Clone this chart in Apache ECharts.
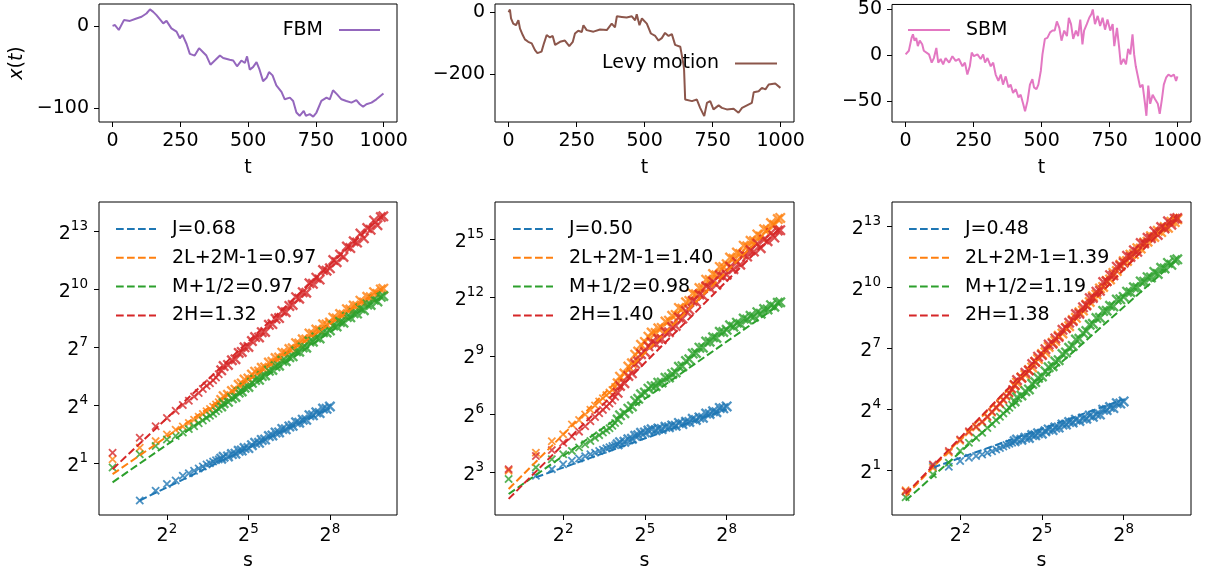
<!DOCTYPE html>
<html>
<head>
<meta charset="utf-8">
<script src="https://cdn.jsdelivr.net/npm/echarts@6/dist/echarts.min.js"></script>
<style>
html, body { margin: 0; padding: 0; background: #fff; }
#main { width: 1215px; height: 576px; }
</style>
</head>
<body>
<div id="main"></div>
<script>
// --- trajectories (top row) ---
var fbmT = [0, 9, 15, 23, 29, 42, 64, 88, 107, 125, 138, 150, 162, 187, 199, 217, 236, 248, 258, 273, 285, 303, 319, 334, 346, 361, 377, 396, 408, 432, 445, 459, 475, 488, 496, 506, 518, 531, 541, 555, 568, 577, 590, 604, 623, 635, 654, 666, 678, 690, 705, 713, 727, 740, 752, 770, 789, 801, 813, 828, 844, 862, 881, 899, 912, 924, 936, 955, 973, 999];
var fbmX = [0, 1, 2, -5, -7, 7, 6, 9, 11, 15, 20, 17, 13, 3, 6, -3, -7, -15, -11, -22, -34, -36, -27, -32, -36, -47, -42, -36, -39, -41, -42, -49, -42, -45, -37, -53, -50, -44, -52, -67, -63, -56, -60, -72, -80, -89, -87, -91, -105, -109, -103, -109, -107, -110, -105, -91, -87, -89, -78, -83, -89, -91, -93, -90, -95, -98, -95, -93, -89, -82];

var levyT = [0, 5, 9, 17, 27, 36, 42, 52, 60, 72, 85, 97, 106, 121, 130, 140, 152, 162, 171, 189, 207, 223, 236, 244, 256, 269, 275, 287, 312, 336, 361, 379, 391, 398, 416, 434, 453, 465, 471, 481, 490, 508, 523, 539, 551, 563, 575, 588, 600, 612, 631, 643, 645, 649, 655, 674, 692, 704, 719, 729, 741, 753, 772, 784, 802, 827, 845, 858, 876, 894, 901, 919, 931, 944, 956, 980, 999];
var levyX = [0, 9, -20, -37, -42, -26, -53, -74, -88, -96, -101, -123, -133, -128, -101, -74, -82, -77, -106, -96, -92, -110, -96, -69, -60, -64, -42, -58, -63, -56, -58, -37, -49, -13, -15, -17, -13, -26, -6, -42, -20, -37, -69, -77, -92, -84, -67, -77, -71, -106, -112, -171, -187, -284, -284, -289, -284, -311, -338, -295, -289, -316, -303, -311, -316, -314, -327, -311, -303, -295, -260, -257, -246, -251, -235, -232, -246];

var sbmT = [0, 12, 22, 27, 33, 39, 45, 52, 61, 67, 74, 86, 96, 104, 113, 120, 129, 138, 147, 160, 172, 184, 196, 209, 218, 227, 236, 243, 251, 264, 276, 285, 292, 301, 313, 322, 331, 341, 350, 358, 368, 378, 386, 395, 405, 415, 423, 432, 439, 448, 457, 466, 472, 481, 488, 497, 503, 512, 521, 531, 540, 548, 556, 565, 573, 583, 593, 600, 608, 616, 626, 634, 642, 650, 656, 666, 675, 683, 688, 696, 706, 715, 724, 733, 742, 752, 761, 767, 777, 785, 791, 801, 810, 818, 826, 834, 840, 846, 853, 862, 871, 880, 885, 892, 899, 908, 917, 927, 934, 942, 949, 958, 966, 976, 986, 994, 999];
var sbmX = [1, 5, 19, 23, 16, 19, 10, 16, 12, 5, 7, 1, -8, -3, 8, -8, -4, -10, -3, -8, -1, -6, -4, -12, -8, -21, -12, 3, -1, 1, -4, 1, -8, -3, -12, -8, -21, -28, -21, -32, -23, -35, -32, -41, -37, -46, -43, -53, -61, -50, -32, -26, -35, -37, -32, -17, 1, 18, 19, 25, 27, 27, 37, 30, 16, 27, 21, 41, 34, 18, 27, 21, 39, 12, 27, 34, 41, 45, 50, 34, 43, 32, 41, 28, 39, 27, 34, 10, 30, 8, -10, -4, -10, 7, 1, 23, 1, -12, -10, -35, -32, -53, -66, -33, -53, -43, -48, -53, -64, -48, -32, -24, -21, -23, -21, -28, -23];

// --- scaling plots (bottom row); y values are read as log2 exponents ---
var sVals = [1, 2, 3, 4, 5, 6, 7, 8, 9, 10, 11, 12, 13, 14, 15,
    16, 17, 19, 21, 23, 25, 27, 29, 32, 35, 38, 42, 45, 49, 54, 59, 64, 70, 76, 83, 91, 99, 108, 117,
    128, 140, 152, 166, 181, 197, 215, 235, 256, 279, 304, 332, 362, 395, 431, 470, 512, 558, 609, 664, 724, 790, 861, 939, 1000];
var sValsJ = sVals.slice(1, 48); // s = 2 .. 256

var p1Names = ['J=0.68', '2L+2M-1=0.97', 'M+1/2=0.97', '2H=1.32'];
var p1J = [-0.91, -0.40, -0.06, 0.12, 0.37, 0.50, 0.63, 0.75, 0.85, 0.95, 1.02, 1.10, 1.17, 1.21,
    1.25, 1.35, 1.37, 1.49, 1.51, 1.66, 1.67, 1.80, 1.80, 1.95, 2.07, 2.07, 2.22, 2.24, 2.42, 2.45,
    2.60, 2.61, 2.79, 2.77, 2.92, 2.95, 3.13, 3.11, 3.27, 3.26, 3.50, 3.49, 3.65, 3.61, 3.84, 3.83, 3.95];
var p1L = [1.22, 1.82, 2.16, 2.50, 2.75, 2.92, 3.10, 3.27, 3.42, 3.56, 3.70, 3.82, 3.94, 4.05, 4.17,
    4.29, 4.48, 4.55, 4.75, 4.82, 5.07, 5.14, 5.34, 5.39, 5.60, 5.75, 5.76, 5.95, 5.97, 6.22, 6.26,
    6.45, 6.48, 6.73, 6.71, 6.92, 6.96, 7.22, 7.20, 7.42, 7.41, 7.72, 7.71, 7.93, 7.89, 8.20, 8.19,
    8.29, 8.54, 8.50, 8.73, 8.69, 8.98, 8.96, 9.17, 9.15, 9.42, 9.32, 9.62, 9.59, 9.86, 9.77, 10.00, 10.04];
var p1M = [0.80, 1.48, 1.91, 2.24, 2.42, 2.60, 2.78, 2.93, 3.08, 3.22, 3.35, 3.47, 3.58, 3.70, 3.82,
    3.95, 4.12, 4.19, 4.37, 4.44, 4.67, 4.73, 4.92, 4.96, 5.17, 5.32, 5.33, 5.52, 5.55, 5.80, 5.84,
    6.03, 6.06, 6.31, 6.29, 6.50, 6.54, 6.80, 6.78, 7.00, 6.99, 7.31, 7.30, 7.52, 7.47, 7.79, 7.78,
    7.88, 8.13, 8.09, 8.32, 8.28, 8.58, 8.56, 8.77, 8.75, 9.02, 8.93, 9.22, 9.20, 9.47, 9.38, 9.62, 9.66];
var p1H = [1.56, 2.33, 2.93, 3.35, 3.73, 4.03, 4.25, 4.46, 4.65, 4.85, 5.02, 5.15, 5.30, 5.45, 5.62,
    5.82, 6.04, 6.10, 6.34, 6.39, 6.72, 6.77, 7.01, 7.03, 7.33, 7.54, 7.52, 7.79, 7.80, 8.17, 8.21,
    8.48, 8.52, 8.89, 8.82, 9.15, 9.20, 9.60, 9.52, 9.86, 9.83, 10.32, 10.29, 10.61, 10.51, 11.00, 10.97,
    11.09, 11.52, 11.41, 11.80, 11.68, 12.22, 12.14, 12.49, 12.42, 12.89, 12.64, 13.17, 13.08, 13.57, 13.32, 13.74, 13.78];
var p1FitJ = [-0.91, 3.85], p1FitL = [0.45, 10.12], p1FitM = [0.03, 9.70], p1FitH = [0.71, 13.87];

var p2Names = ['J=0.50', '2L+2M-1=1.40', 'M+1/2=0.98', '2H=1.40'];
var p2J = [2.83, 3.17, 3.42, 3.60, 3.72, 3.84, 3.94, 4.02, 4.10, 4.17, 4.24, 4.30, 4.36, 4.40,
    4.45, 4.56, 4.58, 4.71, 4.73, 4.89, 4.91, 5.04, 5.06, 5.16, 5.22, 5.17, 5.26, 5.23, 5.35, 5.33,
    5.42, 5.40, 5.55, 5.49, 5.61, 5.60, 5.76, 5.70, 5.83, 5.81, 6.03, 6.01, 6.15, 6.10, 6.32, 6.30, 6.40];
var p2L = [3.09, 4.02, 4.61, 4.96, 5.47, 5.70, 5.98, 6.23, 6.45, 6.65, 6.82, 6.98, 7.12, 7.25, 7.40,
    7.59, 7.93, 8.09, 8.45, 8.62, 9.06, 9.22, 9.57, 9.72, 9.99, 10.20, 10.18, 10.42, 10.44, 10.77, 10.81,
    11.06, 11.11, 11.47, 11.43, 11.76, 11.83, 12.21, 12.17, 12.49, 12.49, 12.92, 12.91, 13.21, 13.15, 13.58, 13.58,
    13.72, 14.06, 14.00, 14.32, 14.25, 14.67, 14.64, 14.92, 14.91, 15.25, 15.14, 15.52, 15.50, 15.84, 15.73, 16.04, 16.10];
var p2M = [2.66, 3.26, 3.68, 3.94, 4.11, 4.28, 4.45, 4.62, 4.78, 4.92, 5.05, 5.17, 5.28, 5.40, 5.55,
    5.72, 5.94, 6.05, 6.28, 6.40, 6.68, 6.79, 7.02, 7.11, 7.31, 7.44, 7.44, 7.62, 7.63, 7.87, 7.89,
    8.07, 8.15, 8.44, 8.47, 8.73, 8.82, 9.12, 9.15, 9.42, 9.42, 9.74, 9.73, 9.96, 9.92, 10.24, 10.23,
    10.34, 10.57, 10.50, 10.71, 10.64, 10.92, 10.87, 11.06, 11.02, 11.25, 11.17, 11.41, 11.39, 11.61, 11.53, 11.73, 11.76];
var p2H = [3.17, 3.85, 4.15, 4.53, 4.85, 5.10, 5.38, 5.64, 5.85, 6.05, 6.22, 6.40, 6.55, 6.70, 6.90,
    7.10, 7.45, 7.59, 7.97, 8.10, 8.59, 8.71, 9.09, 9.20, 9.49, 9.70, 9.62, 9.88, 9.86, 10.23, 10.22,
    10.48, 10.54, 10.98, 10.92, 11.30, 11.37, 11.83, 11.78, 12.16, 12.09, 12.58, 12.50, 12.82, 12.66, 13.15, 13.07,
    13.18, 13.59, 13.46, 13.83, 13.69, 14.21, 14.11, 14.44, 14.37, 14.77, 14.54, 14.99, 14.90, 15.32, 15.09, 15.45, 15.47];
var p2FitJ = [2.75, 6.25], p2FitL = [2.15, 16.10], p2FitM = [1.89, 11.66], p2FitH = [1.64, 15.60];

var p3Names = ['J=0.48', '2L+2M-1=1.39', 'M+1/2=1.19', '2H=1.38'];
var p3J = [1.21, 1.17, 1.46, 1.62, 1.70, 1.78, 1.86, 1.94, 2.02, 2.10, 2.17, 2.24, 2.30, 2.36,
    2.43, 2.51, 2.50, 2.60, 2.59, 2.73, 2.72, 2.82, 2.80, 2.92, 3.01, 2.98, 3.10, 3.10, 3.25, 3.25,
    3.37, 3.35, 3.49, 3.43, 3.55, 3.54, 3.69, 3.63, 3.76, 3.74, 3.98, 3.96, 4.11, 4.06, 4.30, 4.28, 4.39];
var p3L = [0.02, 1.13, 1.88, 2.45, 2.86, 3.10, 3.35, 3.60, 3.83, 4.05, 4.25, 4.43, 4.60, 4.76, 4.95,
    5.17, 5.31, 5.57, 5.69, 5.93, 6.06, 6.33, 6.48, 6.72, 6.81, 7.07, 7.28, 7.37, 7.62, 7.73, 8.00,
    8.09, 8.39, 8.50, 8.77, 8.86, 9.15, 9.28, 9.56, 9.65, 9.95, 10.02, 10.31, 10.39, 10.71, 10.80, 11.11,
    11.29, 11.30, 11.61, 11.64, 11.93, 11.91, 12.21, 12.25, 12.52, 12.48, 12.78, 12.72, 12.97, 12.93, 13.23, 13.21, 13.35];
var p3M = [-0.33, 0.80, 1.37, 1.95, 2.35, 2.60, 2.85, 3.08, 3.28, 3.46, 3.63, 3.80, 3.95, 4.08, 4.22,
    4.39, 4.59, 4.68, 4.89, 4.98, 5.25, 5.34, 5.55, 5.62, 5.87, 6.07, 6.12, 6.35, 6.42, 6.72, 6.80,
    7.03, 7.12, 7.43, 7.47, 7.75, 7.85, 8.16, 8.21, 8.49, 8.50, 8.84, 8.85, 9.09, 9.06, 9.40, 9.41,
    9.53, 9.79, 9.76, 10.00, 9.98, 10.29, 10.28, 10.50, 10.49, 10.76, 10.66, 10.96, 10.93, 11.20, 11.11, 11.34, 11.38];
var p3H = [-0.04, 1.29, 1.95, 2.51, 2.92, 3.15, 3.40, 3.65, 3.88, 4.10, 4.30, 4.48, 4.65, 4.80, 5.00,
    5.20, 5.44, 5.55, 5.80, 5.91, 6.23, 6.34, 6.59, 6.67, 6.96, 7.19, 7.23, 7.49, 7.56, 7.91, 8.00,
    8.26, 8.34, 8.69, 8.70, 9.02, 9.11, 9.47, 9.48, 9.79, 9.83, 10.26, 10.30, 10.60, 10.59, 11.02, 11.06,
    11.21, 11.55, 11.50, 11.82, 11.75, 12.18, 12.16, 12.44, 12.42, 12.76, 12.58, 12.97, 12.90, 13.25, 13.08, 13.38, 13.41];
var p3FitJ = [1.13, 4.49], p3FitL = [-0.25, 13.61], p3FitM = [-0.49, 11.37], p3FitH = [-0.17, 13.59];

var fitS = [1, 1000], fitSJ = [2, 256];
var tTicks = [0, 250, 500, 750, 1000];
var sTicks = [4, 32, 256];

// --- style ---
var FONT = 'DejaVu Sans';
var BLUE = '#1f77b4', ORANGE = '#ff7f0e', GREEN = '#2ca02c', RED = '#d62728';
var XMARK = 'path://M0,1.5 L1.5,0 L10,8.5 L8.5,10 Z M8.5,0 L10,1.5 L1.5,10 L0,8.5 Z';
var DASH_ICON = 'path://M0,0h7.7v2h-7.7z M11,0h7.7v2h-7.7z M22,0h7.7v2h-7.7z M33,0h7v2h-7z';
var txt = { fontFamily: FONT, fontSize: 19, color: '#000' };

var pow2 = function (e) { return Math.pow(2, e); };
var minus = function (v) { return String(v).replace('-', '\u2212'); };
var supLabel = function (v) { return '{b|2}{p|' + Math.round(Math.log2(v)) + '}'; };
var supRich = {
    b: { fontFamily: FONT, fontSize: 19, color: '#000', lineHeight: 24, verticalAlign: 'bottom' }
    , p: { fontFamily: FONT, fontSize: 13.5, color: '#000', lineHeight: 15, verticalAlign: 'top' }
};
// markers crowd together past s=16, where the cloud reads as a solid band
var markSize = function (v) { return v[0] >= 16 ? 11 : 8.5; };

var lefts = [99, 495, 892], widths = [298, 299, 299];
var grids = [], xAxes = [], yAxes = [], series = [], legends = [];

function ticks(values) {
    return { show: true, length: 5, customValues: values, lineStyle: { color: '#000', width: 1 } };
}

for (var i = 0; i < 3; i++) {
    grids.push({ left: lefts[i], top: 4, width: widths[i], height: 118, show: true, borderColor: '#000', borderWidth: 1 });
}
for (var i = 0; i < 3; i++) {
    grids.push({ left: lefts[i], top: 202, width: widths[i], height: 316, show: true, borderColor: '#000', borderWidth: 1 });
}

// top row axes
var topY = [[-116.5, 26.5, [-100, 0]], [-357, 27, [-200, 0]], [-72.8, 55.5, [-50, 0, 50]]];
for (var i = 0; i < 3; i++) {
    xAxes.push({
        type: 'value', gridIndex: i, min: -49.95, max: 1048.95
        , axisLine: { show: false, onZero: false }, splitLine: { show: false }
        , axisTick: ticks(tTicks)
        , axisLabel: Object.assign({ customValues: tTicks, margin: 10, formatter: minus }, txt)
        , name: 't', nameLocation: 'middle', nameGap: 37, nameTextStyle: txt
    });
    yAxes.push({
        type: 'value', gridIndex: i, min: topY[i][0], max: topY[i][1]
        , axisLine: { show: false, onZero: false }, splitLine: { show: false }
        , axisTick: ticks(topY[i][2])
        , axisLabel: Object.assign({ customValues: topY[i][2], margin: 10, formatter: minus }, txt)
        , name: i === 0 ? '{i|x}({i|t})' : '', nameLocation: 'middle', nameRotate: 90, nameGap: 72
        , nameTextStyle: Object.assign({ rich: { i: { fontFamily: FONT, fontSize: 19, fontStyle: 'italic', color: '#000' } } }, txt)
    });
}

// bottom row axes (log base 2)
var botY = [[-1.66, 14.52, [2, 16, 128, 1024, 8192]], [0.81, 16.92, [8, 64, 512, 4096, 32768]], [-1.2, 14.2, [2, 16, 128, 1024, 8192]]];
for (var i = 0; i < 3; i++) {
    xAxes.push({
        type: 'log', logBase: 2, gridIndex: 3 + i, min: pow2(-0.5), max: pow2(10.47)
        , axisLine: { show: false, onZero: false }, splitLine: { show: false }
        , axisTick: ticks(sTicks)
        , axisLabel: { customValues: sTicks, margin: 7, formatter: supLabel, rich: supRich }
        , name: 's', nameLocation: 'middle', nameGap: 37, nameTextStyle: txt
    });
    yAxes.push({
        type: 'log', logBase: 2, gridIndex: 3 + i, min: pow2(botY[i][0]), max: pow2(botY[i][1])
        , axisLine: { show: false, onZero: false }, splitLine: { show: false }
        , axisTick: ticks(botY[i][2])
        , axisLabel: { customValues: botY[i][2], margin: 11, formatter: supLabel, rich: supRich }
    });
}

// trajectories
var pairs = function (a, b) { return a.map(function (v, k) { return [v, b[k]]; }); };
[['FBM', '#9467bd', fbmT, fbmX], ['Levy motion', '#8c564b', levyT, levyX], ['SBM', '#e377c2', sbmT, sbmX]].forEach(function (d, i) {
    series.push({
        type: 'line', name: d[0], xAxisIndex: i, yAxisIndex: i, data: pairs(d[2], d[3])
        , symbol: 'none', color: d[1], lineStyle: { color: d[1], width: 2 }
    });
});

// scaling plots: dashed fit, then its markers on top
function scaling(p, names, eJ, eL, eM, eH, fJ, fL, fM, fH) {
    var idx = 3 + p;
    var sets = [[names[0], BLUE, sValsJ, eJ, fitSJ, fJ], [names[1], ORANGE, sVals, eL, fitS, fL]
        , [names[2], GREEN, sVals, eM, fitS, fM], [names[3], RED, sVals, eH, fitS, fH]];
    sets.forEach(function (d) {
        series.push({
            type: 'line', name: d[0], xAxisIndex: idx, yAxisIndex: idx, symbol: 'none', color: d[1]
            , lineStyle: { color: d[1], width: 2, type: [7.7, 3.3] }
            , data: [[d[4][0], pow2(d[5][0])], [d[4][1], pow2(d[5][1])]]
        });
        series.push({
            type: 'scatter', xAxisIndex: idx, yAxisIndex: idx, symbol: XMARK, symbolSize: markSize, silent: true
            , itemStyle: { color: d[1] }
            , data: d[2].map(function (s, k) { return [s, pow2(d[3][k])]; })
        });
    });
    legends.push({
        orient: 'vertical', left: [116, 513, 909][p], top: 219.5, padding: 0
        , icon: DASH_ICON, itemWidth: 40, itemHeight: 2, itemGap: 9.8, itemStyle: { borderWidth: 0 }
        , selectedMode: false, data: names
        , textStyle: Object.assign({ lineHeight: 19, padding: [0, 0, 0, 11] }, txt)
    });
}
scaling(0, p1Names, p1J, p1L, p1M, p1H, p1FitJ, p1FitL, p1FitM, p1FitH);
scaling(1, p2Names, p2J, p2L, p2M, p2H, p2FitJ, p2FitL, p2FitM, p2FitH);
scaling(2, p3Names, p3J, p3L, p3M, p3H, p3FitJ, p3FitL, p3FitM, p3FitH);

var solidLegend = { padding: 0, icon: 'rect', itemHeight: 2, itemStyle: { borderWidth: 0 }, selectedMode: false };
legends.push(Object.assign({ right: 835, top: 20.5, align: 'right', itemWidth: 41, data: ['FBM']
    , textStyle: Object.assign({ lineHeight: 19, padding: [0, 11, 0, 0] }, txt) }, solidLegend));
legends.push(Object.assign({ right: 438, top: 54, align: 'right', itemWidth: 42, data: ['Levy motion']
    , textStyle: Object.assign({ lineHeight: 19, padding: [0, 11, 0, 0] }, txt) }, solidLegend));
legends.push(Object.assign({ left: 908, top: 20.5, itemWidth: 42, data: ['SBM']
    , textStyle: Object.assign({ lineHeight: 19, padding: [0, 0, 0, 11] }, txt) }, solidLegend));

var myChart = echarts.init(document.getElementById('main'), null, { renderer: 'canvas' });
myChart.setOption({
    animation: false
    , backgroundColor: '#fff'
    , grid: grids
    , xAxis: xAxes
    , yAxis: yAxes
    , legend: legends
    , series: series
});
</script>
</body>
</html>
